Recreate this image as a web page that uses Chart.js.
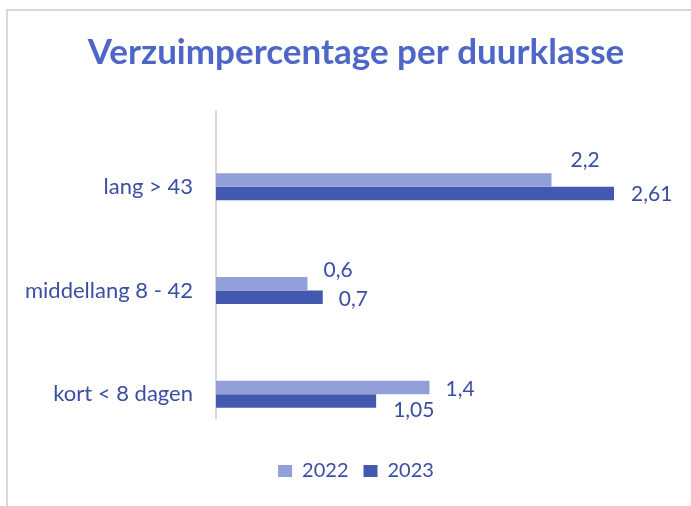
<!DOCTYPE html>
<html>
<head>
<meta charset="utf-8">
<script src="https://cdn.jsdelivr.net/npm/chart.js@4"></script>
<style>
  html, body { margin: 0; padding: 0; background: #ffffff; overflow: hidden; }
  #frame {
    position: absolute;
    left: 6px;
    top: 9px;
    width: 720px;
    height: 520px;
    border-left: 2px solid #d9d9d9;
    border-top: 2px solid #d9d9d9;
  }
  #chart { display: block; }
</style>
</head>
<body>
<div id="frame">
  <canvas id="chart" width="696" height="495"></canvas>
</div>
<script>
// Categorieën en waarden (van boven naar beneden)
const categories = ["lang > 43", "middellang 8 - 42", "kort < 8 dagen"];
const seriesNames = ["2022", "2023"];
const values2022 = [2.2, 0.6, 1.4];
const values2023 = [2.61, 0.7, 1.05];

const textColor = "#3a4ea3";

// Eigen plugin voor de waardelabels (Chart.js heeft geen datalabels ingebouwd)
const valueLabels = {
  id: "valueLabels",
  afterDatasetsDraw(chart, args, opts) {
    const ctx = chart.ctx;
    ctx.save();
    ctx.font = opts.font;
    ctx.fillStyle = opts.color;
    ctx.textAlign = "left";
    ctx.textBaseline = "middle";
    chart.data.datasets.forEach((ds, di) => {
      const meta = chart.getDatasetMeta(di);
      meta.data.forEach((bar, i) => {
        const off = opts.offsets[di][i];
        const text = ds.data[i].toString().replace(".", ",");
        ctx.fillText(text, bar.x + off[0], bar.y + off[1]);
      });
    });
    ctx.restore();
  },
};

// Verticale aslijn, loopt in het origineel niet over de hele hoogte
const axisLine = {
  id: "axisLine",
  beforeDatasetsDraw(chart, args, opts) {
    const ctx = chart.ctx;
    const area = chart.chartArea;
    const x = chart.scales.x.getPixelForValue(0);
    ctx.save();
    ctx.strokeStyle = opts.color;
    ctx.lineWidth = 2;
    ctx.beginPath();
    ctx.moveTo(x, area.top - opts.top);
    ctx.lineTo(x, area.bottom - opts.bottom);
    ctx.stroke();
    ctx.restore();
  },
};

const ctx = document.getElementById("chart").getContext("2d");

new Chart(ctx, {
  type: "bar",
  data: {
    labels: categories,
    datasets: [
      {
        label: seriesNames[0],
        data: values2022,
        backgroundColor: "#929fd8",
      },
      {
        label: seriesNames[1],
        data: values2023,
        backgroundColor: "#4359b0",
      },
    ],
  },
  options: {
    indexAxis: "y",
    responsive: false,
    animation: false,
    categoryPercentage: 0.26,
    barPercentage: 1,
    layout: {
      padding: { left: 0, right: 0, top: 0, bottom: 15 },
    },
    scales: {
      x: {
        display: false,
        min: 0,
        max: 3.2,
      },
      y: {
        grid: { display: false, drawTicks: false },
        border: { display: false },
        ticks: {
          color: textColor,
          padding: 23,
          font: { family: "Lato", size: 22 },
        },
        afterFit(scale) {
          scale.width = 208;
        },
      },
    },
    plugins: {
      title: {
        display: true,
        text: "Verzuimpercentage per duurklasse",
        color: "#4d66c8",
        font: { family: "Lato", size: 35, weight: "bold" },
        padding: { top: 21, bottom: 61 },
      },
      legend: {
        position: "bottom",
        labels: {
          color: textColor,
          boxWidth: 14,
          boxHeight: 12,
          padding: 15,
          font: { family: "Lato", size: 20 },
        },
      },
      tooltip: { enabled: false },
      valueLabels: {
        font: "21px Lato",
        color: textColor,
        offsets: [
          [[19, -20], [16, -14], [16, 2]],
          [[17, 1], [16, 2], [17, 9]],
        ],
      },
      axisLine: {
        color: "#d9d9d9",
        top: 25,
        bottom: 27,
      },
    },
  },
  plugins: [valueLabels, axisLine],
});
</script>
</body>
</html>
